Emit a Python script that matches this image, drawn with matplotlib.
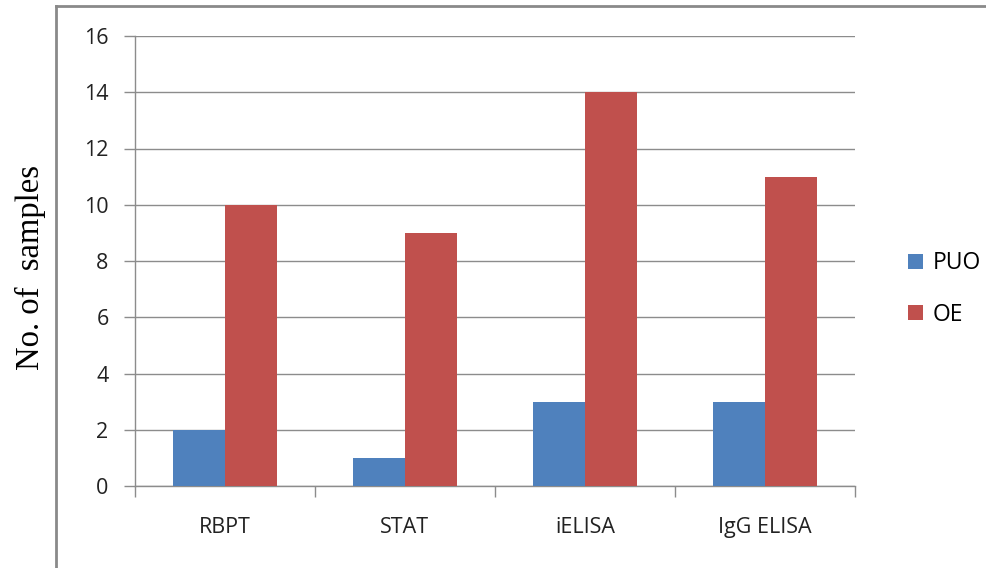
import matplotlib
matplotlib.use("Agg")
import matplotlib.pyplot as plt
from matplotlib.lines import Line2D
from matplotlib.patches import Patch
import numpy as np

categories = ["RBPT", "STAT", "iELISA", "IgG ELISA"]
puo = [2, 1, 3, 3]
oe = [10, 9, 14, 11]
series_names = ["PUO", "OE"]
yticks = [0, 2, 4, 6, 8, 10, 12, 14, 16]

BLUE = "#4F81BD"
RED = "#C0504D"
GRID = "#8c8c8c"
FONT = ["Open Sans", "DejaVu Sans"]

fig = plt.figure(figsize=(9.87, 5.68), dpi=100)
ax = fig.add_axes([135/987, 1-486/568, 720/987, 450/568])

x = np.arange(len(categories)) + 0.5
w = 0.287
ax.bar(x - w/2, puo, width=w, color=BLUE, label=series_names[0], zorder=3)
ax.bar(x + w/2, oe, width=w, color=RED, label=series_names[1], zorder=3)

ax.set_xlim(0, len(categories))
ax.set_ylim(0, 16)
ax.set_yticks(yticks)
ax.set_yticklabels([str(v) for v in yticks], fontfamily=FONT, fontsize=15.5, color="#222222")
ax.set_xticks(np.arange(len(categories) + 1))
ax.set_xticklabels([])
ax.set_xticks(x, minor=True)
ax.set_xticklabels(categories, minor=True, fontfamily=FONT, fontsize=15.5, color="#222222")
ax.tick_params(axis="x", which="minor", length=0, pad=22)
ax.tick_params(axis="x", which="major", length=8, color=GRID, width=1)
ax.tick_params(axis="y", length=8, color=GRID, width=1, pad=11)

ax.yaxis.grid(True, color=GRID, linewidth=1, zorder=0)
for s in ["top", "right"]:
    ax.spines[s].set_visible(False)
for s in ["left", "bottom"]:
    ax.spines[s].set_color(GRID)
    ax.spines[s].set_linewidth(1)

fig.text(30/987, 1-267/568, "No. of  samples", rotation=90, ha="center", va="center",
         fontfamily=["Liberation Serif", "DejaVu Serif"], fontsize=23.5)

handles = [Patch(facecolor=BLUE), Patch(facecolor=RED)]
leg = fig.legend(handles, series_names, loc="center left",
                 bbox_to_anchor=(887/987, 1-289/568), frameon=False,
                 prop={"family": FONT, "size": 16.5}, handlelength=0.65, handleheight=0.65,
                 handletextpad=0.45, labelspacing=1.2)

# outer frame (top and left)
fig.add_artist(Line2D([56/987, 1.0], [1-6/568, 1-6/568], color="#8a8a8a", linewidth=2,
                      transform=fig.transFigure))
fig.add_artist(Line2D([56/987, 56/987], [1-6/568, 0], color="#8a8a8a", linewidth=2,
                      transform=fig.transFigure))

fig.savefig("out.png", dpi=100)
